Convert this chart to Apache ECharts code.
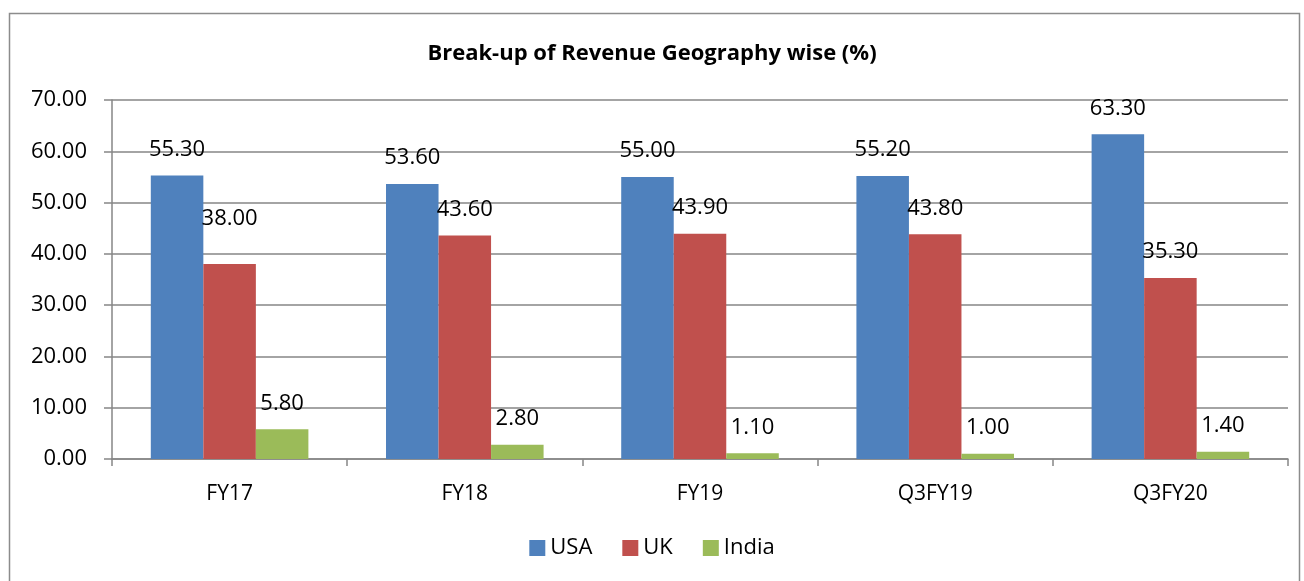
<!DOCTYPE html>
<html>
<head>
<meta charset="utf-8">
<script src="https://cdn.jsdelivr.net/npm/echarts@6/dist/echarts.min.js"></script>
<style>
html,body{margin:0;padding:0;background:#fff;}
#main{width:1304px;height:581px;}
</style>
</head>
<body>
<div id="main"></div>
<script>
var categories = ['FY17', 'FY18', 'FY19', 'Q3FY19', 'Q3FY20'];
var usa = [55.3, 53.6, 55.0, 55.2, 63.3];
var uk = [38.0, 43.6, 43.9, 43.8, 35.3];
var india = [5.8, 2.8, 1.1, 1.0, 1.4];

var font = '"Open Sans", "Noto Sans", sans-serif';
var myChart = echarts.init(document.getElementById('main'));

function bar(name, data, color, lifted) {
  // lifted: index of a label that Excel pushed higher to avoid overlap
  var items = data.map(function (v, i) {
    if (i === lifted) return { value: v, label: { offset: [0, -19] } };
    return v;
  });
  return {
    name: name,
    type: 'bar',
    data: items,
    barGap: '0%',
    barCategoryGap: '33%',
    itemStyle: { color: color },
    label: {
      show: true,
      position: 'top',
      distance: 15,
      color: '#000',
      fontSize: 22,
      fontFamily: font,
      formatter: function (p) { return p.value.toFixed(2); }
    }
  };
}

var option = {
  animation: false,
  title: {
    text: 'Break-up of Revenue Geography wise (%)',
    left: 'center',
    top: 38,
    textStyle: { fontSize: 22, fontWeight: 'bold', color: '#000', fontFamily: font }
  },
  graphic: [{
    type: 'rect',
    shape: { x: 9.5, y: 13.5, width: 1290, height: 580 },
    style: { fill: 'none', stroke: '#8c8c8c', lineWidth: 1.5 },
    silent: true
  }],
  legend: {
    bottom: 17,
    left: 'center',
    itemWidth: 16,
    itemHeight: 16,
    itemGap: 30,
    icon: 'rect',
    textStyle: { fontSize: 22, color: '#000', fontFamily: font },
    data: ['USA', 'UK', 'India']
  },
  grid: { left: 112, right: 16, top: 100, bottom: 122 },
  xAxis: {
    type: 'category',
    data: categories,
    axisLine: { lineStyle: { color: '#868686', width: 1.5 } },
    axisTick: { show: true, length: 7, lineStyle: { color: '#868686', width: 1.5 } },
    axisLabel: { fontSize: 21, color: '#000', margin: 25, fontFamily: font }
  },
  yAxis: {
    type: 'value',
    min: 0,
    max: 70,
    interval: 10,
    axisLine: { show: true, lineStyle: { color: '#868686', width: 1.5 } },
    axisTick: { show: true, length: 8, lineStyle: { color: '#868686', width: 1.5 } },
    splitLine: { lineStyle: { color: '#868686', width: 1.5 } },
    axisLabel: {
      fontSize: 22, color: '#000', margin: 25, fontFamily: font,
      formatter: function (v) { return v.toFixed(2); }
    }
  },
  series: [
    bar('USA', usa, '#4f81bd', -1),
    bar('UK', uk, '#c0504d', 0),
    bar('India', india, '#9bbb59', -1)
  ]
};
myChart.setOption(option);
</script>
</body>
</html>
